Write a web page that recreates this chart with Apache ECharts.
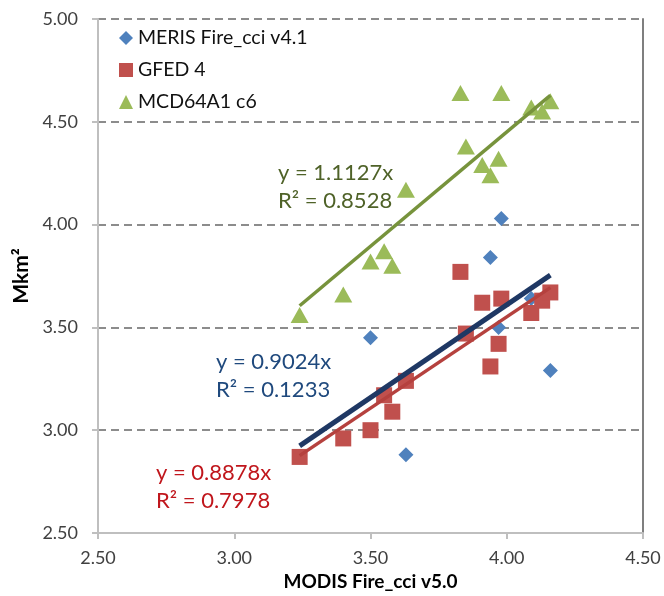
<!DOCTYPE html>
<html>
<head>
<meta charset="utf-8">
<script src="https://cdn.jsdelivr.net/npm/echarts@6/dist/echarts.min.js"></script>
<style>
	html, body { margin: 0; padding: 0; background: #fff; }
	#myChart { width: 664px; height: 596px; }
</style>
</head>
<body>
<div id="myChart"></div>
<script type="text/javascript">
	// MODIS Fire_cci v5.0 values (x), one per year
	var modis = [3.24, 3.40, 3.50, 3.55, 3.58, 3.63, 3.83, 3.85, 3.91, 3.94, 3.97, 3.98, 4.09, 4.13, 4.16];
	// other products against the same years (null = hidden behind other markers)
	var meris = [null, null, 3.45, null, null, 2.88, null, null, null, 3.84, 3.50, 4.03, 3.64, null, 3.29];
	var gfed = [2.87, 2.96, 3.00, 3.17, 3.09, 3.24, 3.77, 3.47, 3.62, 3.31, 3.42, 3.64, 3.57, 3.63, 3.67];
	var mcd = [3.56, 3.66, 3.82, 3.87, 3.80, 4.17, 4.64, 4.38, 4.29, 4.24, 4.32, 4.64, 4.57, 4.55, 4.60];
	var seriesNames = ['MERIS Fire_cci v4.1', 'GFED 4', 'MCD64A1 c6'];
	// trendlines through the origin: y = slope * x
	var slopes = [0.9024, 0.8878, 1.1127];
	var rSquared = [0.1233, 0.7978, 0.8528];
	var xTicks = [2.5, 4.5, 0.5];
	var yTicks = [2.5, 5.0, 0.5];

	var font = 'Lato, "Liberation Sans", Arial, sans-serif';

	function pairs(ys) {
		var out = [];
		for (var i = 0; i < modis.length; i++) {
			if (ys[i] !== null) out.push([modis[i], ys[i]]);
		}
		return out;
	}
	function trend(k) {
		var x0 = Math.min.apply(null, modis);
		var x1 = Math.max.apply(null, modis);
		return [[x0, k * x0], [x1, k * x1]];
	}
	function fmt(v) { return v.toFixed(2); }

	var myChart = echarts.init(document.getElementById('myChart'), null, {renderer: 'canvas'});

	var axisGray = '#BFBFBF';
	var labelStyle = {fontFamily: font, fontSize: 18, color: '#404040'};

	var option = {
		animation: false,
		backgroundColor: '#fff',
		grid: {left: 98, right: 21, top: 19, bottom: 63},
		legend: {
			data: seriesNames,
			orient: 'vertical',
			left: 114,
			top: 23,
			itemWidth: 14,
			itemHeight: 14,
			itemGap: 12,
			textStyle: {fontFamily: font, fontSize: 19.5, color: '#111', lineHeight: 20}
		},
		xAxis: {
			type: 'value',
			min: xTicks[0], max: xTicks[1], interval: xTicks[2],
			name: 'MODIS Fire_cci v5.0',
			nameLocation: 'middle',
			nameGap: 28,
			nameTextStyle: {fontFamily: font, fontSize: 19, fontWeight: 'bold', color: '#000'},
			axisLine: {show: true, onZero: false, lineStyle: {color: axisGray, width: 2}},
			axisTick: {show: true, length: 6, lineStyle: {color: axisGray, width: 2}},
			axisLabel: Object.assign({margin: 16, formatter: fmt}, labelStyle),
			splitLine: {show: false}
		},
		yAxis: [{
			type: 'value',
			min: yTicks[0], max: yTicks[1], interval: yTicks[2],
			name: 'Mkm²',
			nameLocation: 'middle',
			nameRotate: 90,
			nameGap: 64,
			nameTextStyle: {fontFamily: font, fontSize: 21, fontWeight: 'bold', color: '#000'},
			axisLine: {show: true, onZero: false, lineStyle: {color: axisGray, width: 2}},
			axisTick: {show: true, length: 6, lineStyle: {color: axisGray, width: 2}},
			axisLabel: Object.assign({margin: 20, formatter: fmt}, labelStyle),
			splitLine: {show: true, showMinLine: false, lineStyle: {color: '#8C8C8C', width: 2, type: [8, 5]}}
		}, {
			type: 'value',
			position: 'right',
			min: yTicks[0], max: yTicks[1], interval: yTicks[2],
			axisLine: {show: true, onZero: false, lineStyle: {color: '#7F7F7F', width: 2}},
			axisTick: {show: false},
			axisLabel: {show: false},
			splitLine: {show: false}
		}],
		series: [
			{
				name: seriesNames[0], type: 'scatter', symbol: 'diamond', symbolSize: 15,
				itemStyle: {color: '#4F81BD', opacity: 1}, data: pairs(meris), z: 2
			},
			{
				name: seriesNames[1], type: 'scatter', symbol: 'rect', symbolSize: 16,
				itemStyle: {color: '#C0504D', opacity: 1}, data: pairs(gfed), z: 2
			},
			{
				name: seriesNames[2], type: 'scatter', symbol: 'triangle', symbolSize: [18, 16],
				itemStyle: {color: '#9BBB59', opacity: 1}, data: pairs(mcd), z: 2
			},
			{
				type: 'line', data: trend(slopes[2]), symbol: 'none', silent: true, z: 5,
				lineStyle: {color: '#77933C', width: 3.5}
			},
			{
				type: 'line', data: trend(slopes[0]), symbol: 'none', silent: true, z: 5,
				lineStyle: {color: '#1F3864', width: 5}
			},
			{
				type: 'line', data: trend(slopes[1]), symbol: 'none', silent: true, z: 5,
				lineStyle: {color: '#B5413E', width: 3.5}
			}
		],
		graphic: [
			{type: 'text', left: 278, top: 159, z: 10, style: {text: 'y = ' + slopes[2] + 'x\nR² = ' + rSquared[2], font: '22px ' + font, fill: '#4F6228', lineHeight: 28}},
			{type: 'text', left: 216, top: 348, z: 10, style: {text: 'y = ' + slopes[0] + 'x\nR² = ' + rSquared[0], font: '22px ' + font, fill: '#1F497D', lineHeight: 28}},
			{type: 'text', left: 156, top: 459, z: 10, style: {text: 'y = ' + slopes[1] + 'x\nR² = ' + rSquared[1], font: '22px ' + font, fill: '#C0161C', lineHeight: 28}}
		]
	};
	myChart.setOption(option);
</script>
</body>
</html>
